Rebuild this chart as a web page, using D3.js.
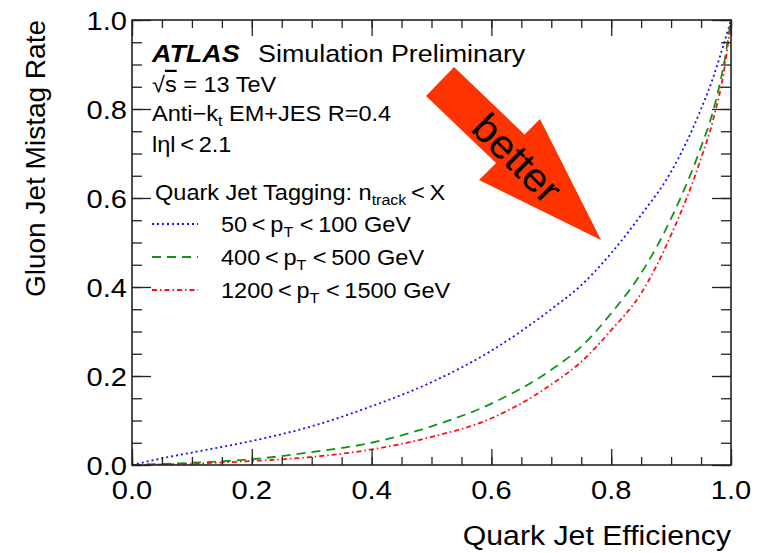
<!DOCTYPE html>
<html><head><meta charset="utf-8">
<script src="https://cdn.jsdelivr.net/npm/d3@7"></script>
<style>
html,body{margin:0;padding:0;background:#fff;}
svg text{font-family:"Liberation Sans",Arial,Helvetica,sans-serif;fill:#000;}
</style></head>
<body><svg id="c" width="757" height="553"></svg>
<script>
// ---- data ----
const effBlue  = [0, 0.05, 0.1, 0.2, 0.3, 0.4, 0.5, 0.6, 0.7, 0.75, 0.8, 0.85, 0.9, 0.95, 0.97, 0.99, 1.0];
const mistagBlue = [0, 0.015, 0.028, 0.054, 0.087, 0.132, 0.186, 0.257, 0.350, 0.404, 0.476, 0.562, 0.659, 0.800, 0.870, 0.955, 1.0];
const effGreen = [0, 0.1, 0.2, 0.3, 0.4, 0.5, 0.6, 0.7, 0.75, 0.8, 0.85, 0.9, 0.95, 0.97, 0.99, 1.0];
const mistagGreen = [0, 0.005, 0.013, 0.029, 0.050, 0.087, 0.138, 0.214, 0.266, 0.341, 0.431, 0.554, 0.715, 0.795, 0.915, 1.0];
const effRed = [0, 0.1, 0.2, 0.3, 0.4, 0.5, 0.6, 0.7, 0.75, 0.8, 0.85, 0.9, 0.95, 0.97, 0.99, 1.0];
const mistagRed = [0, 0.003, 0.009, 0.018, 0.035, 0.063, 0.105, 0.181, 0.232, 0.303, 0.386, 0.517, 0.689, 0.775, 0.900, 1.0];
const seriesLabels = ["50", "400", "1200"];
const seriesUpper = ["100 GeV", "500 GeV", "1500 GeV"];
const majorTicks = [0, 0.2, 0.4, 0.6, 0.8, 1.0];
const tickLabels = ["0.0", "0.2", "0.4", "0.6", "0.8", "1.0"];
const minorTicks = d3.range(0, 1.0001, 0.05);
const arrowX = [0.5376, 0.6553, 0.6811, 0.7830, 0.5793, 0.6077, 0.4908];
const arrowY = [0.8944, 0.7427, 0.7775, 0.5056, 0.6404, 0.6787, 0.8292];

// ---- layout ----
const svg = d3.select("#c");
const x = d3.scaleLinear().domain([0,1]).range([132,731]);
const y = d3.scaleLinear().domain([0,1]).range([465,20]);
const SX = 1.12;

const series = [
  {eff: effBlue, val: mistagBlue, color:"#1010ff", dash:"2 3", lo: seriesLabels[0], hi: seriesUpper[0]},
  {eff: effGreen, val: mistagGreen, color:"#129412", dash:"9 6", lo: seriesLabels[1], hi: seriesUpper[1]},
  {eff: effRed, val: mistagRed, color:"#ff1010", dash:"5 3 1.5 3", lo: seriesLabels[2], hi: seriesUpper[2]}
];

svg.append("clipPath").attr("id","clip").append("rect")
  .attr("x",x(0)).attr("y",y(1)).attr("width",x(1)-x(0)).attr("height",y(0)-y(1));

// curves
const line = d3.line().x(d=>x(d[0])).y(d=>y(d[1])).curve(d3.curveMonotoneX);
const cg = svg.append("g").attr("clip-path","url(#clip)");
series.forEach(s=>{
  cg.append("path").datum(s.eff.map((e,i)=>[e,s.val[i]]))
    .attr("d",line).attr("fill","none").attr("stroke",s.color)
    .attr("stroke-width",1.8).attr("stroke-dasharray",s.dash);
});

// axes (ticks inward)
function ax(gen, tr, vals, size){
  svg.append("g").attr("transform",tr)
    .call(gen.tickValues(vals).tickSize(size).tickFormat(""))
    .call(g=>g.select(".domain").remove())
    .call(g=>g.selectAll("line").attr("stroke","#222").attr("stroke-width",1.3));
}
ax(d3.axisBottom(x), `translate(0,${y(0)})`, majorTicks, -16);
ax(d3.axisBottom(x), `translate(0,${y(0)})`, minorTicks, -8);
ax(d3.axisTop(x), `translate(0,${y(1)})`, majorTicks, -16);
ax(d3.axisTop(x), `translate(0,${y(1)})`, minorTicks, -8);
ax(d3.axisLeft(y), `translate(${x(0)},0)`, majorTicks, -19);
ax(d3.axisLeft(y), `translate(${x(0)},0)`, minorTicks, -10);
ax(d3.axisRight(y), `translate(${x(1)},0)`, majorTicks, -19);
ax(d3.axisRight(y), `translate(${x(1)},0)`, minorTicks, -10);

svg.append("rect").attr("x",x(0)).attr("y",y(1)).attr("width",x(1)-x(0)).attr("height",y(0)-y(1))
  .attr("fill","none").attr("stroke","#222").attr("stroke-width",1.6);

// tick labels
function stext(px, py, anchor, size, sx){
  return svg.append("g").attr("transform",`translate(${px},${py}) scale(${sx||SX},1)`)
    .append("text").attr("text-anchor",anchor).attr("font-size",size);
}
majorTicks.forEach((v,i)=>{
  stext(x(v), 499, "middle", 26).text(tickLabels[i]);
  stext(127, y(v)+9.5, "end", 26).text(tickLabels[i]);
});

// axis titles
stext(731, 545, "end", 27).text("Quark Jet Efficiency");
svg.append("text").attr("transform","translate(45,20) rotate(-90)")
  .attr("text-anchor","end").attr("font-size",28).text("Gluon Jet Mistag Rate");

// ATLAS block
const FS = 22, SX2 = 1.07;
stext(152, 62, "start", 24).attr("font-weight","bold").attr("font-style","italic").text("ATLAS");
stext(258, 62, "start", 24).text("Simulation Preliminary");
{
  const t = stext(152, 92, "start", FS, SX2);
  t.append("tspan").text("√");
  t.append("tspan").style("text-decoration","overline").text("s");
  t.append("tspan").text(" = 13 TeV");
}
{
  const t = stext(152, 121, "start", FS, SX2);
  t.append("tspan").text("Anti\u2212k");
  t.append("tspan").attr("font-size",15).attr("dy",5).text("t");
  t.append("tspan").attr("dy",-5).text(" EM+JES R=0.4");
}
stext(152, 152, "start", FS, SX2).text("lηl\u2009<\u20092.1");
{
  const t = stext(155, 200, "start", FS, SX2);
  t.append("tspan").text("Quark Jet Tagging: n");
  t.append("tspan").attr("font-size",15).attr("dy",5).text("track");
  t.append("tspan").attr("dy",-5).text("\u2009<\u2009X");
}
// legend
const legY = [224, 257, 290];
series.forEach((s,i)=>{
  svg.append("line").attr("x1",152).attr("x2",198).attr("y1",legY[i]).attr("y2",legY[i])
    .attr("stroke",s.color).attr("stroke-width",1.8).attr("stroke-dasharray",s.dash);
  const t = stext(221, legY[i]+7.5, "start", FS, SX2);
  t.append("tspan").text(s.lo+"\u2009<\u2009p");
  t.append("tspan").attr("font-size",15).attr("dy",5).text("T");
  t.append("tspan").attr("dy",-5).text(" <\u2009"+s.hi);
});

// "better" arrow
svg.append("polygon")
  .attr("points", arrowX.map((v,i)=>[x(v), y(arrowY[i])].join(",")).join(" "))
  .attr("fill","#ff3300");
svg.append("text").attr("transform","translate(517,158) rotate(45) scale(1.05,1)")
  .attr("text-anchor","middle").attr("dy","0.35em").attr("font-size",40).text("better");
</script></body></html>
